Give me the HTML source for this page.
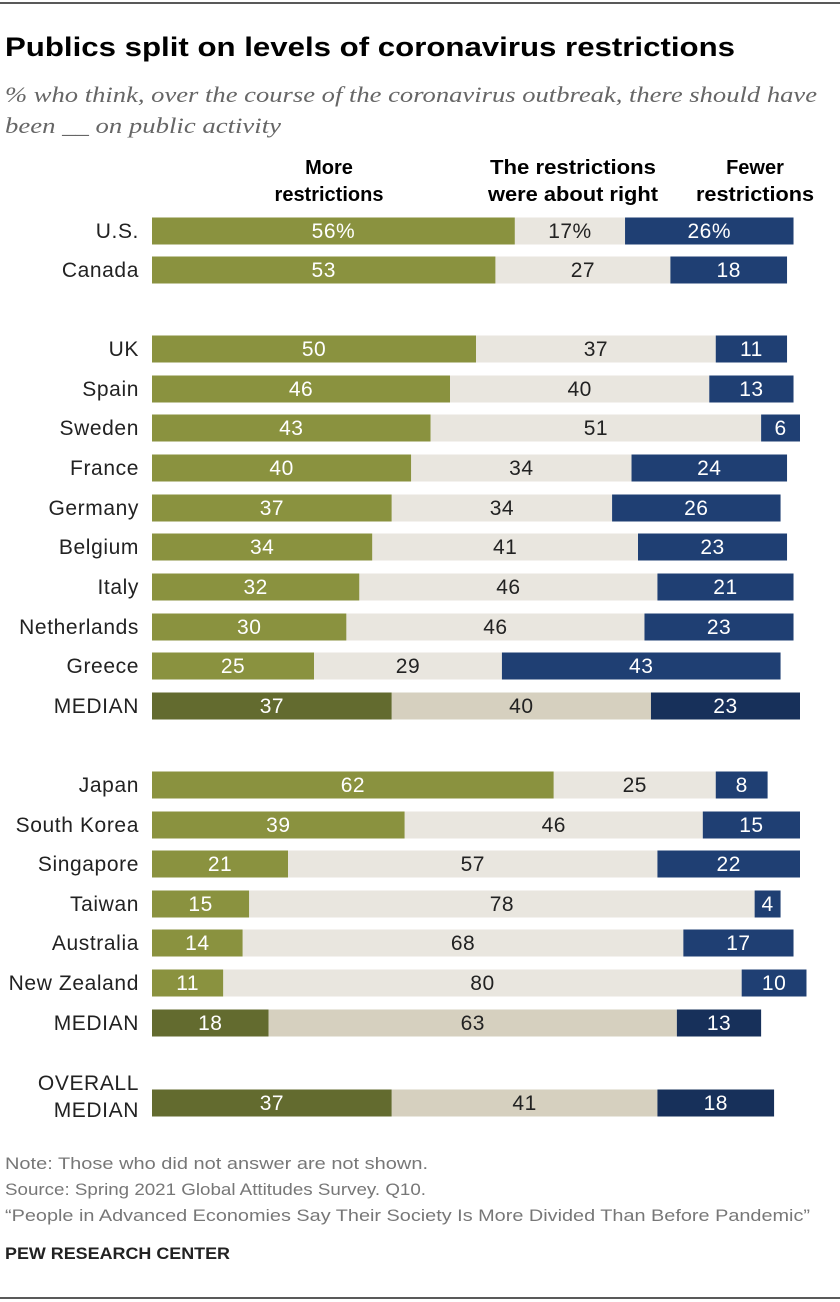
<!DOCTYPE html>
<html><head><meta charset="utf-8"><style>
body{margin:0;background:#fff;}
svg{display:block;font-family:"Liberation Sans",sans-serif;}
</style></head><body>
<svg width="840" height="1302" viewBox="0 0 840 1302" id="chart">
<line x1="0" y1="3" x2="840" y2="3" stroke="#222" stroke-width="1.5"/>
<text x="5" y="56" font-size="27" font-weight="bold" font-family="'Liberation Sans Narrow','Liberation Sans',sans-serif" textLength="730" lengthAdjust="spacingAndGlyphs">Publics split on levels of coronavirus restrictions</text>
<text x="5" y="102" font-size="22" font-style="italic" fill="#666" font-family="'Liberation Serif',serif" textLength="812" lengthAdjust="spacingAndGlyphs">% who think, over the course of the coronavirus outbreak, there should have</text>
<text x="5" y="133" font-size="22" font-style="italic" fill="#666" font-family="'Liberation Serif',serif" textLength="276" lengthAdjust="spacingAndGlyphs">been __ on public activity</text>
<g font-weight="bold" font-size="20" text-anchor="middle" fill="#000">
<text x="329" y="174">More</text>
<text x="329" y="201">restrictions</text>
<text x="573" y="174" textLength="166" lengthAdjust="spacingAndGlyphs">The restrictions</text>
<text x="573" y="201" textLength="170" lengthAdjust="spacingAndGlyphs">were about right</text>
<text x="755" y="174">Fewer</text>
<text x="755" y="201" textLength="118" lengthAdjust="spacingAndGlyphs">restrictions</text>
</g>
<g id="bars"></g>
<g font-size="17" fill="#777">
<text x="5" y="1169" textLength="423" lengthAdjust="spacingAndGlyphs">Note: Those who did not answer are not shown.</text>
<text x="5" y="1195" textLength="421" lengthAdjust="spacingAndGlyphs">Source: Spring 2021 Global Attitudes Survey. Q10.</text>
<text x="5" y="1221" textLength="805" lengthAdjust="spacingAndGlyphs">“People in Advanced Economies Say Their Society Is More Divided Than Before Pandemic”</text>
</g>
<text x="5" y="1259" font-size="17" font-weight="bold" fill="#222" textLength="225" lengthAdjust="spacingAndGlyphs">PEW RESEARCH CENTER</text>
<line x1="0" y1="1298" x2="840" y2="1298" stroke="#222" stroke-width="1.5"/>
</svg>
<script>
const countries=["U.S.","Canada","UK","Spain","Sweden","France","Germany","Belgium","Italy","Netherlands","Greece","MEDIAN","Japan","South Korea","Singapore","Taiwan","Australia","New Zealand","MEDIAN","OVERALL|MEDIAN"];
const moreVals=[56,53,50,46,43,40,37,34,32,30,25,37,62,39,21,15,14,11,18,37];
const rightVals=[17,27,37,40,51,34,34,41,46,46,29,40,25,46,57,78,68,80,63,41];
const fewerVals=[26,18,11,13,6,24,26,23,21,23,43,23,8,15,22,4,17,10,13,18];
const rowCenters=[231,270,349,389,428,468,508,547,587,627,666,706,785,825,864,904,943,983,1023,1103];
const x0=152, scale=6.48, bh=27;
const X=v=>v*scale;
const ns="http://www.w3.org/2000/svg";
const g=document.getElementById('bars');
function mk(tag,attrs){const e=document.createElementNS(ns,tag);for(const k in attrs)e.setAttribute(k,attrs[k]);g.appendChild(e);return e;}
countries.forEach((c,i)=>{
  const cy=rowCenters[i], top=cy-13.5;
  const med=c.includes("MEDIAN");
  const cols=med?["#636b2f","#d6d0bf","#17305a"]:["#8a923f","#e9e6df","#1f3f73"];
  const vals=[moreVals[i],rightVals[i],fewerVals[i]];
  let x=x0;
  vals.forEach((v,j)=>{
    const r=mk('rect',{x:x,y:top,width:X(v),height:bh,fill:cols[j]});
    
    
    let s=String(v);
    if(i===0) s+="%";
    const t=mk('text',{x:x+X(v)/2,y:cy+7,'text-anchor':'middle','font-size':21,'letter-spacing':0.5,fill:j===1?'#222':'#fff'});
    t.textContent=s;
    
    
    x+=X(v);
  });
  const parts=c.split("|");
  parts.forEach((p,k)=>{
    const yy=parts.length>1?cy-13+k*27:cy+7;
    const t=mk('text',{x:139,y:yy,'text-anchor':'end','font-size':21,'letter-spacing':0.6,fill:'#222'});
    t.textContent=p;
    
    
  });
});
</script>
</body></html>
